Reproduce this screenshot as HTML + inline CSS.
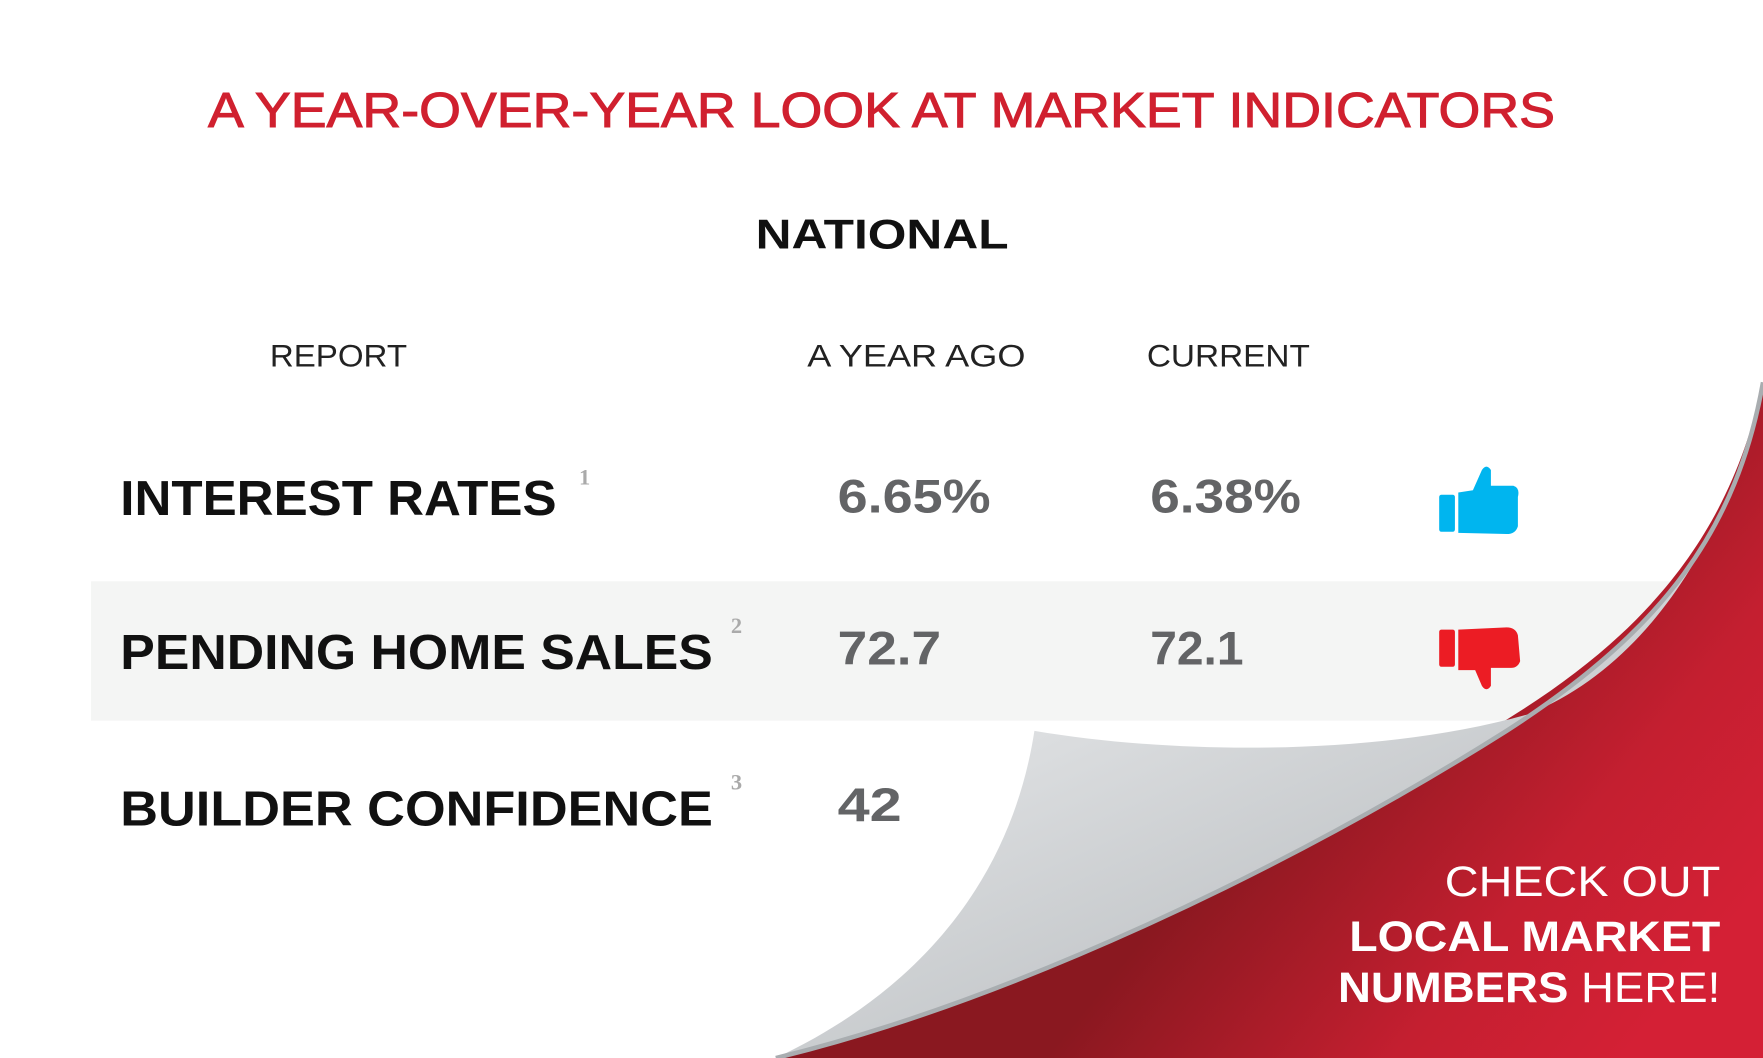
<!DOCTYPE html>
<html><head><meta charset="utf-8"><style>html,body{margin:0;padding:0;background:#fff}svg{display:block}</style></head>
<body>
<svg width="1763" height="1058" viewBox="0 0 1568 941" preserveAspectRatio="none" xmlns="http://www.w3.org/2000/svg" font-family="Liberation Sans, sans-serif">
<defs>
<linearGradient id="red" x1="0.55" y1="0.5" x2="1" y2="0.75">
<stop offset="0" stop-color="#8a1820"/><stop offset="0.6" stop-color="#c41f30"/><stop offset="1" stop-color="#d42035"/></linearGradient>
<linearGradient id="flap" x1="0.15" y1="0.05" x2="0.7" y2="0.9">
<stop offset="0" stop-color="#fbfcfc"/><stop offset="0.45" stop-color="#dcdee0"/><stop offset="1" stop-color="#b8bcbf"/></linearGradient>
</defs>
<rect width="1568" height="941" fill="#fff"/>
<rect x="81" y="517" width="1440" height="124" fill="#f4f5f4"/>
<path d="M690 941 C900 880 1150 760 1340 640 C1470 560 1540 470 1568 340 L1568 941 Z" fill="url(#red)"/>
<path d="M920 650 C1050 672 1230 672 1360 635 C1470 590 1540 470 1568 340 C1545 470 1480 560 1340 650 C1150 770 900 890 690 941 C820 880 900 780 920 650 Z" fill="url(#flap)"/>
<path d="M1568 340 C1545 470 1480 560 1340 650 C1150 770 900 890 690 941" fill="none" stroke="#a9adb0" stroke-width="4"/>
<text x="185" y="113" font-size="44" fill="#d0202f" stroke="#d0202f" stroke-width="0.9" textLength="1198" lengthAdjust="spacingAndGlyphs">A YEAR-OVER-YEAR LOOK AT MARKET INDICATORS</text>
<text x="672" y="221" font-size="37" font-weight="bold" fill="#111" textLength="225" lengthAdjust="spacingAndGlyphs">NATIONAL</text>
<g font-size="28" fill="#222" font-weight="300">
<text x="240" y="326" textLength="122" lengthAdjust="spacingAndGlyphs">REPORT</text>
<text x="718" y="326" textLength="194" lengthAdjust="spacingAndGlyphs">A YEAR AGO</text>
<text x="1020" y="326" textLength="145" lengthAdjust="spacingAndGlyphs">CURRENT</text>
</g>
<g font-size="44" font-weight="bold" fill="#111">
<text x="107" y="458" textLength="388" lengthAdjust="spacingAndGlyphs">INTEREST RATES</text>
<text x="107" y="595" textLength="527" lengthAdjust="spacingAndGlyphs">PENDING HOME SALES</text>
<text x="107" y="734" textLength="527" lengthAdjust="spacingAndGlyphs">BUILDER CONFIDENCE</text>
</g>
<g font-size="20" fill="#aaa" font-family="Liberation Serif, serif" font-weight="bold">
<text x="515" y="431">1</text><text x="650" y="563">2</text><text x="650" y="702">3</text>
</g>
<g font-size="42" font-weight="bold" fill="#636466">
<text x="745" y="456" textLength="136" lengthAdjust="spacingAndGlyphs">6.65%</text>
<text x="1023" y="456" textLength="134" lengthAdjust="spacingAndGlyphs">6.38%</text>
<text x="745" y="591" textLength="92" lengthAdjust="spacingAndGlyphs">72.7</text>
<text x="1023" y="591" textLength="83" lengthAdjust="spacingAndGlyphs">72.1</text>
<text x="745" y="730" textLength="57" lengthAdjust="spacingAndGlyphs">42</text>
</g>
<g fill="#00b5ef">
<rect x="1280" y="440" width="14" height="33" rx="2"/>
<path d="M1297 438 L1310 436 L1318 418 Q1322 412 1326 418 L1326 432 L1346 432 Q1352 434 1350 442 L1350 468 Q1348 475 1340 475 L1297 474 Z"/>
</g>
<g fill="#ec1c24">
<rect x="1280" y="560" width="14" height="33" rx="2"/>
<path d="M1297 560 L1340 558 Q1348 558 1350 565 L1352 588 Q1350 594 1344 594 L1326 594 L1326 610 Q1322 616 1318 610 L1312 596 L1297 596 Z"/>
</g>
<g fill="#fff" font-size="38" text-anchor="end">
<text x="1530" y="797" font-weight="300" textLength="245" lengthAdjust="spacingAndGlyphs">CHECK OUT</text>
<text x="1530" y="846" font-weight="bold" textLength="330" lengthAdjust="spacingAndGlyphs">LOCAL MARKET</text>
<text x="1530" y="891" textLength="340" lengthAdjust="spacingAndGlyphs"><tspan font-weight="bold">NUMBERS</tspan><tspan font-weight="300"> HERE!</tspan></text>
</g>
</svg>
</body></html>
